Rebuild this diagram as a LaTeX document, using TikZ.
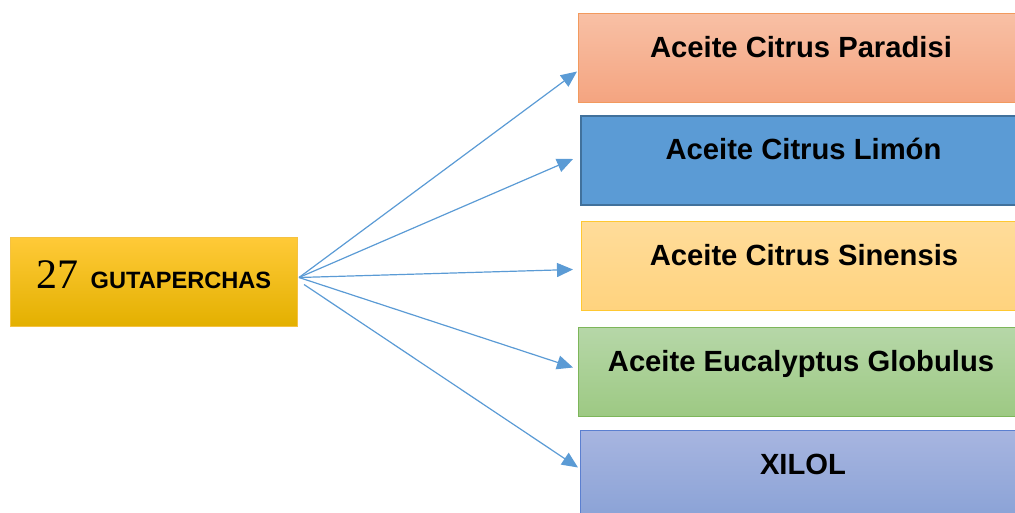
\documentclass[tikz,border=0pt]{standalone}
\usepackage{fontspec}
\setmainfont{Liberation Sans}
\newfontfamily\numfont{Liberation Serif}
\usetikzlibrary{arrows.meta,calc}
\definecolor{arr}{HTML}{5B9BD5}
\definecolor{srcT}{HTML}{FFCA38}
\definecolor{srcB}{HTML}{E3B000}
\definecolor{srcD}{HTML}{F5C242}
\definecolor{aT}{HTML}{F8C0A5}
\definecolor{aB}{HTML}{F4A480}
\definecolor{aD}{HTML}{F29A5E}
\definecolor{bF}{HTML}{5B9BD5}
\definecolor{bD}{HTML}{41719C}
\definecolor{cT}{HTML}{FFDC9A}
\definecolor{cB}{HTML}{FFD37E}
\definecolor{cD}{HTML}{FFC832}
\definecolor{dT}{HTML}{B6D7A8}
\definecolor{dB}{HTML}{9DC983}
\definecolor{dD}{HTML}{7DB65A}
\definecolor{eT}{HTML}{A7B5E0}
\definecolor{eB}{HTML}{8AA2D6}
\definecolor{eD}{HTML}{5B7FD0}
\tikzset{
  tbox/.style={rectangle, anchor=north west, minimum width=445pt, minimum height=89pt,
    inner sep=0pt, line width=1pt, text height=21pt, text depth=23pt,
    font=\fontsize{29.2}{34}\selectfont\bfseries},
  conn/.style={draw=arr, line width=1.2pt, -{Triangle[length=16pt,width=14pt]}}
}
\begin{document}
\begin{tikzpicture}[x=1pt,y=-1pt]
\useasboundingbox (0,0) rectangle (1015,512);
\node[rectangle, anchor=north west, minimum width=287pt, minimum height=89pt, inner sep=0pt,
  top color=srcT, bottom color=srcB, draw=srcD, line width=1pt,
  text height=25pt, text depth=12pt] (src) at (10,237)
  {{\numfont\fontsize{42}{46}\selectfont 27}\hspace{12pt}{\fontsize{23.6}{26}\selectfont\bfseries GUTAPERCHAS}};
\node[tbox, top color=aT, bottom color=aB, draw=aD] (p1) at (578,13) {Aceite Citrus Paradisi};
\node[tbox, fill=bF, draw=bD, line width=2pt] (p2) at (580,115) {Aceite Citrus Limón};
\node[tbox, top color=cT, bottom color=cB, draw=cD] (p3) at (581,221) {Aceite Citrus Sinensis};
\node[tbox, top color=dT, bottom color=dB, draw=dD] (p4) at (578,327) {Aceite Eucalyptus Globulus};
\node[tbox, top color=eT, bottom color=eB, draw=eD] (p5) at (580,430) {XILOL};
\draw[conn] ($(src.east)+(1,-4.5)$) -- ($(p1.west)+(-1,13.5)$);
\draw[conn] ($(src.east)+(1,-4.5)$) -- ($(p2.west)+(-7,-1.5)$);
\draw[conn] ($(src.east)+(1,-4.5)$) -- ($(p3.west)+(-8,3.5)$);
\draw[conn] ($(src.east)+(1,-4.5)$) -- ($(p4.west)+(-5,-4.5)$);
\draw[conn] ($(src.east)+(6,2.5)$) -- ($(p5.west)+(-2,-7.5)$);
\end{tikzpicture}
\end{document}
